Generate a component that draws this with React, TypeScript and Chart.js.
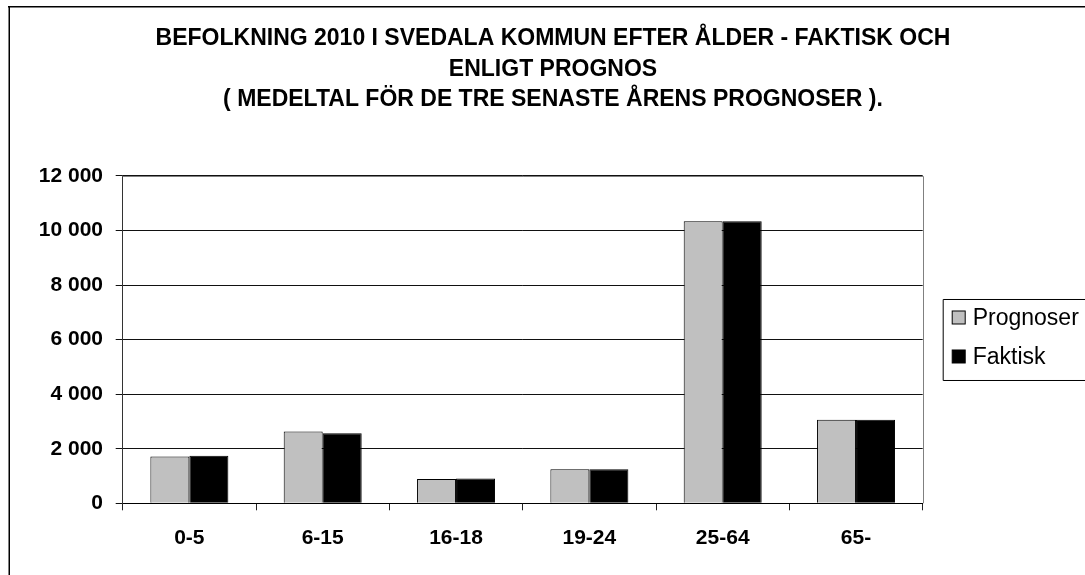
import React, { useEffect, useRef } from "react";
import { Chart, registerables } from "chart.js";

Chart.register(...registerables);

const categories = ["0-5", "6-15", "16-18", "19-24", "25-64", "65-"];
const prognoser = [1720, 2630, 890, 1250, 10340, 3060];
const faktisk = [1740, 2570, 910, 1250, 10340, 3060];
const titleLines = [
  "BEFOLKNING 2010 I SVEDALA KOMMUN EFTER ÅLDER - FAKTISK OCH",
  "ENLIGT PROGNOS",
  "( MEDELTAL FÖR DE TRE SENASTE ÅRENS PROGNOSER ).",
];
const seriesNames = ["Prognoser", "Faktisk"];
const seriesColors = ["#C0C0C0", "#000000"];

const FONT = "'Liberation Sans', Arial, sans-serif";

const fmt = (v: number) =>
  String(v).replace(/\B(?=(\d{3})+(?!\d))/g, " ");

const decor = {
  id: "decor",
  beforeDraw(chart: any) {
    const ctx = chart.ctx;
    ctx.save();
    ctx.fillStyle = "#ffffff";
    ctx.fillRect(0, 0, chart.width, chart.height);
    ctx.fillStyle = "#000000";
    ctx.fillRect(0, 0, chart.width, 1.5);
    ctx.fillRect(0.5, 0, 1.5, chart.height);
    ctx.restore();
  },
  afterDraw(chart: any) {
    const ctx = chart.ctx;
    const a = chart.chartArea;
    ctx.save();
    ctx.strokeStyle = "#808080";
    ctx.lineWidth = 1;
    ctx.beginPath();
    ctx.moveTo(a.left, Math.round(a.top) + 0.5);
    ctx.lineTo(Math.round(a.right) + 0.5, Math.round(a.top) + 0.5);
    ctx.lineTo(Math.round(a.right) + 0.5, a.bottom);
    ctx.stroke();

    // legend
    const bx = a.right + 20.5;
    const by = a.top + 123.5;
    const bh = 81;
    ctx.strokeStyle = "#000000";
    ctx.beginPath();
    ctx.moveTo(chart.width + 5, by);
    ctx.lineTo(bx, by);
    ctx.lineTo(bx, by + bh);
    ctx.lineTo(chart.width + 5, by + bh);
    ctx.stroke();
    ctx.font = `23px ${FONT}`;
    ctx.textBaseline = "middle";
    ctx.textAlign = "left";
    chart.data.datasets.forEach((ds: any, i: number) => {
      const cy = by + 18 + i * 39;
      ctx.fillStyle = ds.backgroundColor;
      ctx.fillRect(bx + 9, cy - 6.5, 13, 13);
      ctx.strokeStyle = "#000";
      ctx.strokeRect(bx + 9, cy - 6.5, 13, 13);
      ctx.fillStyle = "#000";
      ctx.fillText(ds.label, bx + 29.5, cy + 1);
    });
    ctx.restore();
  },
};

export default function App() {
  const ref = useRef<HTMLCanvasElement | null>(null);
  useEffect(() => {
    if (!ref.current) return;
    const chart = new Chart(ref.current, {
      type: "bar",
      data: {
        labels: categories,
        datasets: [
          {
            label: seriesNames[0],
            data: prognoser,
            backgroundColor: seriesColors[0],
            borderColor: "#000",
            borderWidth: 1,
            categoryPercentage: 0.585,
            barPercentage: 1,
            yAxisID: "y",
          },
          {
            label: seriesNames[1],
            data: faktisk,
            backgroundColor: seriesColors[1],
            borderColor: "#000",
            borderWidth: 1,
            categoryPercentage: 0.585,
            barPercentage: 1,
            yAxisID: "y",
          },
        ],
      },
      options: {
        responsive: false,
        animation: false,
        devicePixelRatio: 1,
        layout: { padding: 0 },
        plugins: {
          legend: { display: false },
          tooltip: { enabled: false },
          title: {
            display: true,
            text: titleLines,
            color: "#000",
            font: { family: FONT, size: 23, weight: "bold", lineHeight: 1.326 },
            padding: { top: 17.75, bottom: 60.75 },
          },
        },
        scales: {
          x: {
            grid: {
              display: true,
              drawOnChartArea: false,
              drawTicks: true,
              tickLength: 7,
              color: "#222",
              offset: true,
            },
            border: { display: true, color: "#000", width: 1 },
            ticks: {
              color: "#000",
              padding: 14.9,
              font: { family: FONT, size: 21, weight: "bold" },
            },
            afterFit(s: any) {
              s.height = 569 - 497.3;
            },
          },
          y: {
            position: "left",
            min: 0,
            max: 12000,
            grid: {
              color: "#111",
              tickLength: 7,
              drawTicks: true,
            },
            border: { display: true, color: "#333", width: 1 },
            ticks: {
              stepSize: 2000,
              color: "#000",
              padding: 12.7,
              font: { family: FONT, size: 21, weight: "bold" },
              callback: (v: any) => fmt(Number(v)),
            },
            afterFit(s: any) {
              s.width = 114.7;
            },
          },
          yR: {
            position: "right",
            display: true,
            grid: { display: false, drawTicks: false },
            border: { display: false },
            ticks: { display: false },
            afterFit(s: any) {
              s.width = 1090 - 914.7;
            },
          },
        },
      },
      plugins: [decor],
    });
    return () => chart.destroy();
  }, []);
  return (
    <div
      style={{
        position: "fixed",
        left: 0,
        top: 0,
        width: 1085,
        height: 575,
        overflow: "hidden",
        background: "#fff",
      }}
    >
      <canvas
        ref={ref}
        width={1090}
        height={569}
        style={{ position: "absolute", left: 8, top: 6, width: 1090, height: 569 }}
      />
    </div>
  );
}
